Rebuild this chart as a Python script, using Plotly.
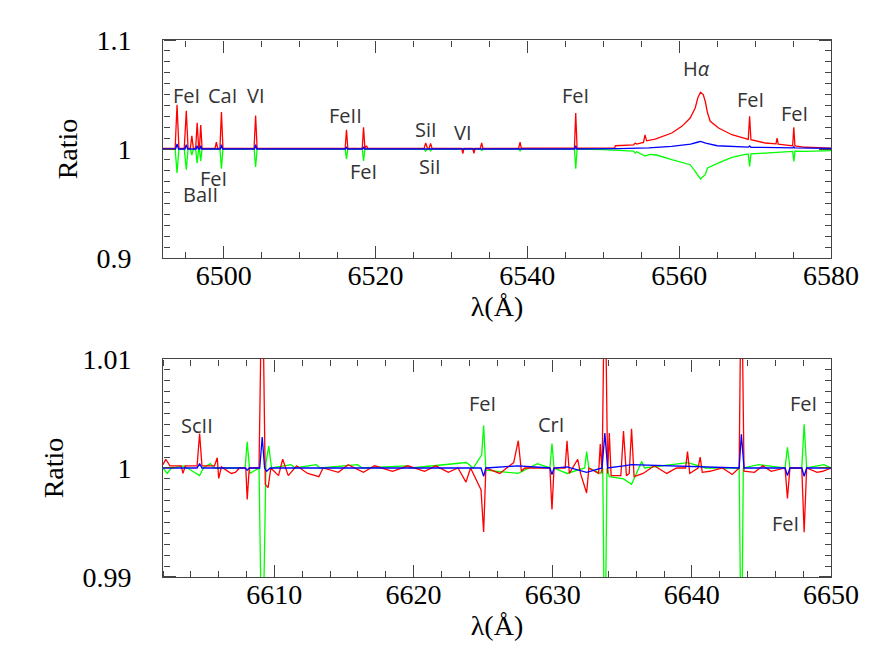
import plotly.graph_objects as go

# ---- top panel (6492-6580 A) ----
top_wl_red = [6492.0, 6493.6, 6493.85, 6494.1, 6494.8, 6495.07, 6495.3, 6495.6, 6495.8, 6496.0,
              6496.3, 6496.5, 6496.7, 6496.8, 6496.97, 6497.15, 6498.85, 6499.03, 6499.2, 6499.5,
              6499.7, 6499.9, 6504.0, 6504.2, 6504.4, 6516.0, 6516.17, 6516.35, 6518.25, 6518.42,
              6518.6, 6518.8, 6519.0, 6526.4, 6526.6, 6526.85, 6527.05, 6527.25, 6527.45, 6531.35,
              6531.5, 6531.65, 6532.8, 6532.97, 6533.1, 6533.8, 6533.98, 6534.15, 6538.85, 6539.04,
              6539.2, 6546.2, 6546.37, 6546.55, 6551.5, 6551.6, 6554.0, 6554.2, 6554.4, 6555.3,
              6555.5, 6555.7, 6556.84, 6559.03, 6560.35, 6561.45, 6562.11, 6562.46, 6562.81, 6563.17,
              6563.43, 6563.74, 6564.09, 6565.19, 6566.94, 6568.71, 6569.1, 6569.28, 6569.45, 6571.35,
              6572.75, 6572.9, 6573.05, 6574.42, 6574.95, 6575.1, 6575.25, 6576.62, 6580.0]
top_red = [1.0005, 1.0005, 1.0406, 1.0005, 1.0005, 1.035, 1.0005, 1.0005, 1.012, 1.0005,
           1.0005, 1.024, 1.0005, 1.0005, 1.022, 1.0005, 1.0005, 1.0064, 1.0005, 1.0005,
           1.034, 1.0005, 1.0005, 1.0306, 1.0005, 1.0005, 1.0177, 1.0005, 1.0005, 1.020,
           1.0005, 1.003, 1.0005, 1.0005, 1.0055, 1.0005, 1.0005, 1.005, 1.0005, 1.0005,
           0.9957, 1.0005, 1.0005, 0.996, 1.0005, 1.0006, 1.0055, 1.0006, 1.0007, 1.0064,
           1.0007, 1.0009, 1.033, 1.0009, 1.0010, 1.003, 1.0038, 1.0055, 1.0045, 1.006,
           1.013, 1.0075, 1.009, 1.0147, 1.0208, 1.0284, 1.0376, 1.047, 1.052, 1.050,
           1.0438, 1.033, 1.0254, 1.0193, 1.0131, 1.0095, 1.0088, 1.030, 1.0085, 1.0055,
           1.0048, 1.010, 1.0045, 1.0034, 1.003, 1.020, 1.0028, 1.0016, 1.0009]

top_wl_green = [6492.0, 6493.6, 6493.85, 6494.1, 6494.8, 6495.07, 6495.3, 6495.6, 6495.8, 6496.0,
                6496.3, 6496.5, 6496.7, 6496.8, 6496.97, 6497.15, 6499.5, 6499.7, 6499.9, 6504.0,
                6504.2, 6504.4, 6516.0, 6516.17, 6516.35, 6518.25, 6518.42, 6518.6, 6526.4, 6526.6,
                6526.8, 6527.1, 6527.25, 6527.4, 6533.8, 6534.0, 6534.2, 6538.9, 6539.04, 6539.2,
                6546.2, 6546.37, 6546.55, 6550.0, 6554.0, 6554.2, 6554.4, 6555.5, 6556.1, 6557.0,
                6559.03, 6561.45, 6562.11, 6562.81, 6563.43, 6563.74, 6565.19, 6566.94, 6568.7, 6569.1,
                6569.28, 6569.45, 6571.35, 6574.0, 6574.95, 6575.1, 6575.25, 6576.62, 6580.0]
top_green = [1.0, 1.0, 0.978, 1.0, 1.0, 0.981, 1.0, 1.0, 0.9945, 1.0,
             1.0, 0.987, 1.0, 1.0, 0.989, 1.0, 1.0, 0.982, 1.0, 1.0,
             0.9835, 1.0, 1.0, 0.991, 1.0, 1.0, 0.989, 1.0, 1.0, 0.998,
             1.0, 1.0, 0.998, 1.0, 1.0, 0.9985, 1.0, 1.0, 0.998, 1.0,
             1.0, 0.982, 1.0, 0.9995, 0.998, 0.9963, 0.9975, 0.9935, 0.995, 0.9945,
             0.9902, 0.9856, 0.9795, 0.9725, 0.9764, 0.9826, 0.9872, 0.9924, 0.995, 0.9952,
             0.984, 0.9955, 0.9963, 0.9975, 0.9978, 0.9887, 0.998, 0.9979, 0.9985]

top_wl_blue = [6492.0, 6493.65, 6493.85, 6494.05, 6494.9, 6495.07, 6495.25, 6496.35, 6496.5, 6496.65,
               6496.85, 6496.97, 6497.1, 6499.55, 6499.7, 6499.85, 6504.05, 6504.2, 6504.35, 6516.05,
               6516.17, 6516.3, 6518.3, 6518.42, 6518.55, 6546.25, 6546.37, 6546.5, 6552.0, 6556.0,
               6559.0, 6561.5, 6562.4, 6562.81, 6563.5, 6565.0, 6569.1, 6569.28, 6569.45, 6570.0,
               6575.0, 6575.1, 6575.2, 6580.0]
top_blue = [1.0, 1.0, 1.0046, 1.0, 1.0, 1.004, 1.0, 1.0, 1.003, 1.0,
            1.0, 1.003, 1.0, 1.0, 1.004, 1.0, 1.0, 1.004, 1.0, 1.0,
            1.002, 1.0, 1.0, 1.002, 1.0, 1.0, 1.003, 1.0, 1.0003, 1.001,
            1.0025, 1.0045, 1.0062, 1.007, 1.0055, 1.003, 1.0017, 1.0028, 1.0016, 1.0015,
            1.001, 1.002, 1.001, 1.0005]

# ---- bottom panel (6602-6650 A) ----
bot_wl_red = [6602.0, 6602.2, 6602.5, 6603.3, 6603.44, 6603.6, 6604.45, 6604.63, 6604.8, 6605.7,
              6605.9, 6606.0, 6606.2, 6606.9, 6607.2, 6607.5, 6607.95, 6608.05, 6608.2, 6608.9,
              6609.13, 6609.35, 6609.55, 6609.75, 6610.3, 6610.6, 6611.0, 6611.6, 6612.4, 6613.2,
              6613.5, 6614.6, 6615.3, 6616.4, 6617.2, 6618.5, 6619.6, 6620.8, 6621.6, 6622.5,
              6623.2, 6623.77, 6624.1, 6624.85, 6625.04, 6625.2, 6626.2, 6627.2, 6627.53, 6627.75,
              6628.0, 6629.8, 6629.95, 6630.1, 6630.9, 6631.03, 6631.2, 6631.8, 6632.0, 6632.44,
              6632.6, 6633.3, 6633.42, 6633.55, 6633.75, 6633.95, 6634.07, 6634.2, 6634.9, 6635.09,
              6635.3, 6635.5, 6635.67, 6635.85, 6636.5, 6637.3, 6638.2, 6638.9, 6639.55, 6639.69,
              6639.85, 6640.45, 6640.6, 6640.75, 6641.3, 6642.2, 6642.9, 6643.4, 6643.56, 6643.75,
              6644.5, 6645.1, 6645.7, 6646.7, 6646.87, 6647.05, 6647.9, 6648.07, 6648.25, 6649.0,
              6649.4, 6650.0]
bot_red = [1.0003, 1.0008, 1.0002, 1.0002, 0.9995, 1.0002, 1.0002, 1.00315, 1.0002, 1.0002,
           1.00094, 0.99905, 1.0001, 0.9995, 0.9996, 1.0, 1.0, 0.99712, 1.0, 1.0,
           1.02, 0.9985, 0.9982, 1.0, 0.9993, 1.0008, 0.9993, 1.0002, 0.9995, 0.9992,
           1.0, 0.9996, 1.0003, 0.9996, 1.0002, 0.9997, 1.0002, 0.9997, 1.0002, 0.9996,
           1.0, 0.9987, 1.0, 0.998, 0.99413, 1.0, 0.9995, 1.0005, 1.0025, 0.9997,
           1.0, 1.0, 0.9962, 1.0, 1.0, 1.0025, 0.9995, 1.0008, 0.9995, 0.9977,
           1.0, 0.9995, 1.0022, 0.9995, 1.02, 0.9995, 1.0032, 0.9993, 0.9993, 1.0034,
           0.9993, 0.9995, 1.0036, 0.9992, 0.9995, 1.0002, 0.9995, 1.0, 1.0, 1.0015,
           0.9995, 1.0, 1.001, 0.9996, 0.9997, 1.0, 0.9994, 1.0, 1.02, 0.9997,
           0.9996, 1.0002, 0.9997, 1.0, 0.9972, 1.0, 1.0, 0.9941, 1.0, 0.9996,
           0.9997, 1.0]

bot_wl_green = [6602.0, 6602.3, 6602.6, 6603.5, 6604.63, 6604.9, 6605.4, 6605.7, 6607.9, 6608.05,
                6608.25, 6608.9, 6609.13, 6609.4, 6609.6, 6609.8, 6611.2, 6611.5, 6613.0, 6613.3,
                6616.0, 6616.3, 6619.5, 6619.8, 6623.8, 6624.3, 6624.9, 6625.04, 6625.2, 6627.53,
                6628.9, 6629.8, 6629.95, 6630.1, 6631.03, 6632.3, 6632.44, 6632.6, 6633.42, 6633.6,
                6633.75, 6633.9, 6634.07, 6635.09, 6635.67, 6636.2, 6636.4, 6636.6, 6639.7, 6641.0,
                6643.4, 6643.56, 6643.7, 6644.8, 6646.7, 6646.87, 6647.05, 6647.9, 6648.07, 6648.25,
                6649.5, 6650.0]
bot_green = [1.0, 0.9995, 1.0, 1.0002, 0.9993, 1.0, 1.0004, 1.0, 1.0, 1.0024,
             0.9995, 1.0, 0.98, 1.0005, 1.002, 1.0, 1.0003, 1.0, 1.0003, 1.0,
             1.0003, 1.0, 1.0002, 1.0, 1.0005, 1.0, 1.0012, 1.0039, 0.9998, 0.9995,
             1.0004, 1.0, 1.00225, 1.0, 0.9995, 1.0, 1.0015, 1.0, 0.9995, 1.0,
             0.98, 1.0, 0.9992, 0.999, 0.9985, 1.0, 1.0006, 1.0, 1.0005, 1.0,
             1.0, 0.98, 1.0, 1.0003, 1.0, 1.0019, 1.0, 1.0, 1.004, 1.0,
             1.0003, 1.0]

bot_wl_blue = [6602.0, 6604.45, 6604.63, 6604.8, 6607.9, 6608.05, 6608.2, 6608.95, 6609.13, 6609.3,
               6609.45, 6609.7, 6624.85, 6625.04, 6625.2, 6627.53, 6629.8, 6629.95, 6630.1, 6631.03,
               6632.44, 6633.55, 6633.75, 6633.95, 6635.09, 6635.67, 6643.4, 6643.56, 6643.75, 6646.7,
               6646.87, 6647.05, 6647.9, 6648.07, 6648.25, 6650.0]
bot_blue = [1.0, 1.0, 1.0004, 1.0, 1.0, 0.9998, 1.0, 1.0, 1.00284, 1.0,
            0.9997, 1.0, 1.0, 0.99924, 1.0, 1.0002, 1.0, 0.9994, 1.0, 1.0001,
            0.9996, 1.0, 1.0032, 1.0, 1.0002, 1.0003, 1.0, 1.0031, 1.0, 1.0,
            0.9993, 1.0, 1.0, 0.99924, 1.0, 1.0]

# line labels
top_labels = ["FeI", "CaI", "VI", "FeI", "BaII", "FeII", "FeI", "SiI", "SiI", "VI", "FeI", "H<i>α</i>", "FeI", "FeI"]
top_label_x = [6495.03, 6499.78, 6504.2, 6498.6, 6497.0, 6516.0, 6518.37, 6526.7, 6527.2, 6531.56, 6546.33, 6562.3, 6569.4, 6575.2]
top_label_y = [1.0495, 1.0495, 1.0495, 0.9734, 0.9587, 1.0303, 0.9798, 1.0183, 0.9844, 1.0147, 1.0495, 1.0743, 1.045, 1.033]
bot_labels = ["ScII", "FeI", "CrI", "FeI", "FeI"]
bot_label_x = [6604.44, 6624.97, 6629.85, 6648.02, 6646.7]
bot_label_y = [1.00388, 1.0059, 1.00397, 1.0059, 0.99489]

fig = go.Figure()
for wl, val, col, xa, ya in [
    (top_wl_green, top_green, "#00ff00", "x", "y"),
    (top_wl_red, top_red, "#ff0000", "x", "y"),
    (top_wl_blue, top_blue, "#0000ff", "x", "y"),
    (bot_wl_green, bot_green, "#00ff00", "x2", "y2"),
    (bot_wl_red, bot_red, "#ff0000", "x2", "y2"),
    (bot_wl_blue, bot_blue, "#0000ff", "x2", "y2"),
]:
    fig.add_trace(go.Scatter(x=wl, y=val, mode="lines", line=dict(color=col, width=1.3),
                             xaxis=xa, yaxis=ya, showlegend=False, hoverinfo="skip"))

# empty traces so the tick-only overlay axes get drawn
for xa, ya in [("x3", "y"), ("x4", "y"), ("x", "y3"), ("x", "y4"),
               ("x5", "y2"), ("x6", "y2"), ("x2", "y5"), ("x2", "y6")]:
    fig.add_trace(go.Scatter(x=[], y=[], mode="lines", xaxis=xa, yaxis=ya,
                             showlegend=False, hoverinfo="skip"))

serif = dict(family="Liberation Serif", size=28, color="black")
label_font = dict(family="Open Sans", size=20, color="#333")
TICK = "#444"


def axis(rng, tick0, dtick, title, standoff, anchor, labeloff, domain=None):
    # main axis: frame line, tick labels and title
    d = dict(range=rng, tickmode="linear", tick0=tick0, dtick=dtick, ticks="",
             mirror=True, showline=True, linecolor=TICK, linewidth=1,
             showgrid=False, zeroline=False, tickfont=serif, ticklabelstandoff=labeloff,
             title=dict(text=title, font=serif, standoff=standoff), anchor=anchor)
    if domain is not None:
        d["domain"] = domain
    return d


def tick_axis(rng, tick0, dtick, minor, overlay, side, pos):
    # label-less overlay axis whose outside ticks point into the panel
    return dict(range=rng, tickmode="linear", tick0=tick0, dtick=dtick,
                ticks="outside", ticklen=12, tickwidth=1, tickcolor=TICK,
                minor=dict(tickmode="linear", dtick=minor, ticks="outside", ticklen=6,
                           tickwidth=1, tickcolor=TICK, showgrid=False),
                showticklabels=False, showline=False, showgrid=False, zeroline=False,
                overlaying=overlay, side=side, anchor="free", position=pos)


top_x = [6492, 6580]
top_y = [0.9, 1.1]
bot_x = [6602, 6650]
bot_y = [0.99, 1.01]

fig.update_layout(
    template="none",
    width=875, height=654,
    margin=dict(l=155, r=52, t=32, b=85),
    plot_bgcolor="rgba(0,0,0,0)", paper_bgcolor="white",
    xaxis=axis(top_x, 6500, 20, "λ(Å)", 6, "y", -8),
    yaxis=axis(top_y, 0.9, 0.1, "Ratio", 10, "x", 25, [0.594, 1.0]),
    xaxis2=axis(bot_x, 6610, 10, "λ(Å)", 6, "y2", -8),
    yaxis2=axis(bot_y, 0.99, 0.01, "Ratio", 10, "x2", 25, [0.0, 0.406]),
    xaxis3=tick_axis(top_x, 6500, 20, 5, "x", "top", 0.594),
    xaxis4=tick_axis(top_x, 6500, 20, 5, "x", "bottom", 1.0),
    yaxis3=tick_axis(top_y, 0.9, 0.1, 0.01, "y", "right", 0.0),
    yaxis4=tick_axis(top_y, 0.9, 0.1, 0.01, "y", "left", 1.0),
    xaxis5=tick_axis(bot_x, 6610, 10, 2, "x2", "top", 0.0),
    xaxis6=tick_axis(bot_x, 6610, 10, 2, "x2", "bottom", 0.406),
    yaxis5=tick_axis(bot_y, 0.99, 0.01, 0.001, "y2", "right", 0.0),
    yaxis6=tick_axis(bot_y, 0.99, 0.01, 0.001, "y2", "left", 1.0),
)

for txt, x, y in zip(top_labels, top_label_x, top_label_y):
    fig.add_annotation(x=x, y=y, xref="x", yref="y", text=txt, showarrow=False, font=label_font)
for txt, x, y in zip(bot_labels, bot_label_x, bot_label_y):
    fig.add_annotation(x=x, y=y, xref="x2", yref="y2", text=txt, showarrow=False, font=label_font)

fig.write_html("out.html")
